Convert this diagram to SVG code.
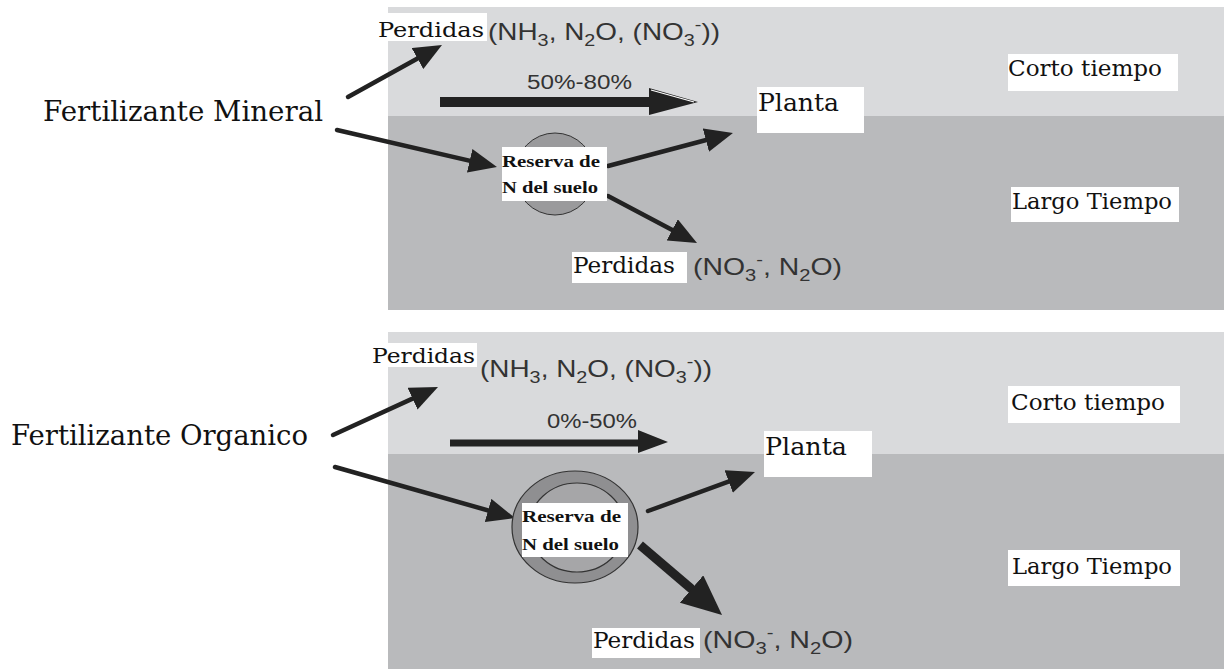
<svg xmlns="http://www.w3.org/2000/svg" width="1224" height="669" viewBox="0 0 1224 669">
<style>
.light{fill:#d9dadc}
.dark{fill:#b9babc}
.box{fill:#ffffff}
.ser{font-family:"DejaVu Serif","Liberation Serif",serif;fill:#111}
.bold{font-family:"Liberation Serif","DejaVu Serif",serif;font-weight:bold;fill:#111}
.sans{font-family:"Liberation Sans",Arial,sans-serif;fill:#333}
.ar{stroke:#222;stroke-width:4.5;fill:none;stroke-linecap:round}
.sub{font-size:17px}
</style>
<defs>
<marker id="ah" viewBox="0 0 28 24" refX="15" refY="12" markerWidth="28" markerHeight="24" markerUnits="userSpaceOnUse" orient="auto">
<path d="M0,0 L28,12 L0,24 z" fill="#222"/>
</marker>
<marker id="ahBig" viewBox="0 0 40 36" refX="20" refY="18" markerWidth="40" markerHeight="36" markerUnits="userSpaceOnUse" orient="auto">
<path d="M0,0 L40,18 L0,36 z" fill="#222"/>
</marker>
</defs>

<g id="panel-mineral">
<rect class="light" x="388" y="7" width="836" height="109"/>
<rect class="dark" x="388" y="116" width="836" height="194"/>
</g>
<g id="panel-organico">
<rect class="light" x="388" y="332" width="836" height="122"/>
<rect class="dark" x="388" y="454" width="836" height="215"/>
</g>

<g id="connectors">
<line class="ar" x1="348" y1="97" x2="430.6" y2="51.3" marker-end="url(#ah)"/>
<line class="ar" x1="337" y1="130" x2="484.3" y2="164.1" marker-end="url(#ah)"/>
<line class="ar" x1="608" y1="166" x2="720.4" y2="136.3" marker-end="url(#ah)"/>
<line class="ar" x1="608" y1="196" x2="685.5" y2="236.9" marker-end="url(#ah)"/>
<path d="M440,97 L649,97 L649,88 L698,102 L649,115 L649,107 L440,107 z" fill="#222"/>
<line x1="651" y1="90" x2="694" y2="102" stroke="#ffffff" stroke-width="1.2"/>
<line class="ar" x1="333" y1="435" x2="426.2" y2="392.4" marker-end="url(#ah)"/>
<line class="ar" x1="335" y1="467" x2="502.5" y2="514.5" marker-end="url(#ah)"/>
<line class="ar" x1="648" y1="511" x2="742.8" y2="476.4" marker-end="url(#ah)"/>
<line class="ar" style="stroke-width:9;stroke-linecap:butt" x1="640" y1="545" x2="706.8" y2="602" marker-end="url(#ahBig)"/>
<path d="M450,439.5 L638,439.5 L638,430 L668,442 L638,453 L638,446.5 L450,446.5 z" fill="#222"/>
</g>

<g id="fert-mineral">
<text class="ser" x="43" y="121" font-size="28" textLength="280" lengthAdjust="spacingAndGlyphs">Fertilizante Mineral</text>
</g>
<g id="perdidas-top-1">
<rect class="box" x="377" y="13" width="110" height="28"/>
<text class="ser" x="378" y="37" font-size="21" textLength="106" lengthAdjust="spacingAndGlyphs">Perdidas</text>
<text class="sans" x="488" y="40" font-size="24" textLength="232" lengthAdjust="spacingAndGlyphs">(NH<tspan class="sub" dy="6">3</tspan><tspan dy="-6">, N</tspan><tspan class="sub" dy="6">2</tspan><tspan dy="-6">O, (NO</tspan><tspan class="sub" dy="6">3</tspan><tspan class="sub" dy="-16">-</tspan><tspan dy="10">))</tspan></text>
</g>
<g id="pct-1">
<text class="sans" x="527" y="89" font-size="20" textLength="105" lengthAdjust="spacingAndGlyphs">50%-80%</text>
</g>
<g id="planta-1">
<rect class="box" x="757" y="87" width="107" height="46"/>
<text class="ser" x="758" y="111" font-size="24" textLength="81" lengthAdjust="spacingAndGlyphs">Planta</text>
</g>
<g id="reserva-1">
<ellipse cx="555" cy="174" rx="40" ry="41" fill="#9a9a9c" stroke="#333" stroke-width="1"/>
<rect class="box" x="502" y="147" width="105" height="54"/>
<text class="bold" x="502" y="167" font-size="17" textLength="98" lengthAdjust="spacingAndGlyphs">Reserva de</text>
<text class="bold" x="502" y="193" font-size="17" textLength="96" lengthAdjust="spacingAndGlyphs">N del suelo</text>
</g>
<g id="perdidas-bottom-1">
<rect class="box" x="572" y="252" width="115" height="31"/>
<text class="ser" x="573" y="273" font-size="22" textLength="102" lengthAdjust="spacingAndGlyphs">Perdidas</text>
<text class="sans" x="693" y="275" font-size="24" textLength="149" lengthAdjust="spacingAndGlyphs">(NO<tspan class="sub" dy="6">3</tspan><tspan class="sub" dy="-16">-</tspan><tspan dy="10">, N</tspan><tspan class="sub" dy="6">2</tspan><tspan dy="-6">O)</tspan></text>
</g>
<g id="corto-1">
<rect class="box" x="1008" y="54" width="170" height="37"/>
<text class="ser" x="1008" y="76" font-size="22" textLength="154" lengthAdjust="spacingAndGlyphs">Corto tiempo</text>
</g>
<g id="largo-1">
<rect class="box" x="1011" y="187" width="168" height="35"/>
<text class="ser" x="1012" y="209" font-size="22" textLength="160" lengthAdjust="spacingAndGlyphs">Largo Tiempo</text>
</g>

<g id="fert-organico">
<text class="ser" x="11" y="445" font-size="28" textLength="297" lengthAdjust="spacingAndGlyphs">Fertilizante Organico</text>
</g>
<g id="perdidas-top-2">
<rect class="box" x="371" y="343" width="106" height="24"/>
<text class="ser" x="372" y="363" font-size="21" textLength="103" lengthAdjust="spacingAndGlyphs">Perdidas</text>
<text class="sans" x="480" y="377" font-size="24" textLength="232" lengthAdjust="spacingAndGlyphs">(NH<tspan class="sub" dy="6">3</tspan><tspan dy="-6">, N</tspan><tspan class="sub" dy="6">2</tspan><tspan dy="-6">O, (NO</tspan><tspan class="sub" dy="6">3</tspan><tspan class="sub" dy="-16">-</tspan><tspan dy="10">))</tspan></text>
</g>
<g id="pct-2">
<text class="sans" x="547" y="428" font-size="20" textLength="90" lengthAdjust="spacingAndGlyphs">0%-50%</text>
</g>
<g id="planta-2">
<rect class="box" x="764" y="431" width="108" height="46"/>
<text class="ser" x="765" y="455" font-size="24" textLength="82" lengthAdjust="spacingAndGlyphs">Planta</text>
</g>
<g id="reserva-2">
<ellipse cx="575" cy="527" rx="63" ry="56" fill="#8f8f91" stroke="#333" stroke-width="1.2"/>
<ellipse cx="577" cy="527.5" rx="48" ry="44.5" fill="#a6a6a8" stroke="#333" stroke-width="1.2"/>
<rect class="box" x="522" y="503" width="106" height="54"/>
<text class="bold" x="522" y="522" font-size="17" textLength="99" lengthAdjust="spacingAndGlyphs">Reserva de</text>
<text class="bold" x="522" y="550" font-size="17" textLength="97" lengthAdjust="spacingAndGlyphs">N del suelo</text>
</g>
<g id="perdidas-bottom-2">
<rect class="box" x="592" y="628" width="108" height="30"/>
<text class="ser" x="593" y="648" font-size="22" textLength="102" lengthAdjust="spacingAndGlyphs">Perdidas</text>
<text class="sans" x="703" y="648" font-size="24" textLength="150" lengthAdjust="spacingAndGlyphs">(NO<tspan class="sub" dy="6">3</tspan><tspan class="sub" dy="-16">-</tspan><tspan dy="10">, N</tspan><tspan class="sub" dy="6">2</tspan><tspan dy="-6">O)</tspan></text>
</g>
<g id="corto-2">
<rect class="box" x="1008" y="386" width="172" height="37"/>
<text class="ser" x="1011" y="410" font-size="22" textLength="154" lengthAdjust="spacingAndGlyphs">Corto tiempo</text>
</g>
<g id="largo-2">
<rect class="box" x="1008" y="550" width="172" height="36"/>
<text class="ser" x="1012" y="574" font-size="22" textLength="160" lengthAdjust="spacingAndGlyphs">Largo Tiempo</text>
</g>
</svg>
